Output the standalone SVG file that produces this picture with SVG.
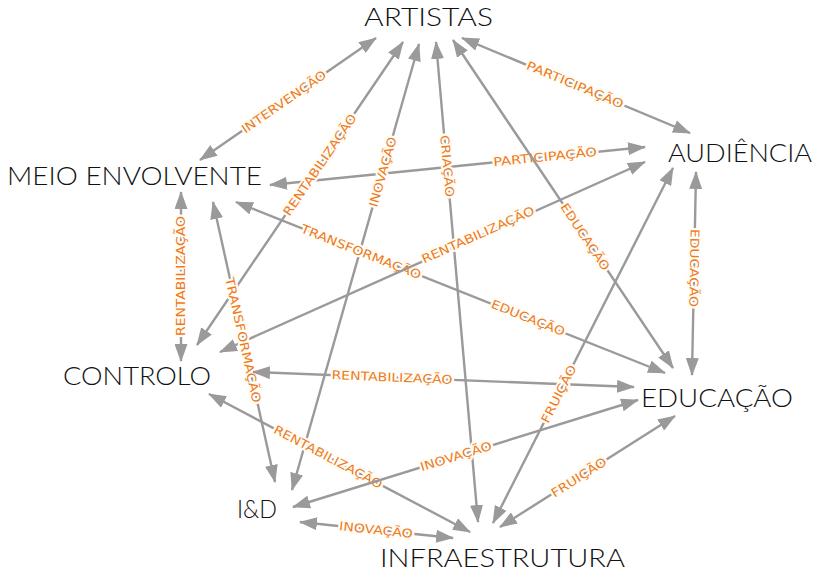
<svg xmlns="http://www.w3.org/2000/svg" width="815" height="573" viewBox="0 0 815 573">
<defs>
<marker id="ah" viewBox="0 0 18 13" markerWidth="18" markerHeight="13" refX="17" refY="6.5" orient="auto-start-reverse" markerUnits="userSpaceOnUse">
<path d="M0,0 L18,6.5 L0,13 z" fill="#9b9999"/>
</marker>
</defs>
<style>
.node text{font-family:"Lato","DejaVu Sans",sans-serif;font-size:25px;font-weight:300;fill:#111;}
.edge line{stroke:#9b9999;stroke-width:2.4;marker-start:url(#ah);marker-end:url(#ah);}
.lbl{font-family:"DejaVu Sans","Liberation Sans",sans-serif;font-size:12px;fill:#ee7a1f;text-anchor:middle;dominant-baseline:central;stroke:#fffdf5;stroke-width:4;stroke-linejoin:round;paint-order:stroke;}
</style>
<rect width="815" height="573" fill="#fff"/>
<g id="connectors">
<g class="edge"><line x1="376" y1="38" x2="200" y2="160"/><text class="lbl" transform="translate(284,102) rotate(-34.7)" textLength="100" lengthAdjust="spacingAndGlyphs">INTERVENÇÃO</text></g>
<g class="edge"><line x1="462" y1="38" x2="690" y2="133"/><text class="lbl" transform="translate(575,85) rotate(22.6)" textLength="104" lengthAdjust="spacingAndGlyphs">PARTICIPAÇÃO</text></g>
<g class="edge"><line x1="645" y1="147" x2="270" y2="185"/><text class="lbl" transform="translate(545,157) rotate(-5.8)" textLength="104" lengthAdjust="spacingAndGlyphs">PARTICIPAÇÃO</text></g>
<g class="edge"><line x1="403" y1="42" x2="197" y2="345"/><text class="lbl" transform="translate(320,165) rotate(-55.8)" textLength="120" lengthAdjust="spacingAndGlyphs">RENTABILIZAÇÃO</text></g>
<g class="edge"><line x1="419" y1="44" x2="292" y2="490"/><text class="lbl" transform="translate(383,172) rotate(-74.1)" textLength="72" lengthAdjust="spacingAndGlyphs">INOVAÇÃO</text></g>
<g class="edge"><line x1="436" y1="42" x2="478" y2="522"/><text class="lbl" transform="translate(447,166) rotate(85)" textLength="62" lengthAdjust="spacingAndGlyphs">CRIAÇÃO</text></g>
<g class="edge"><line x1="453" y1="40" x2="673" y2="368"/><text class="lbl" transform="translate(585,237) rotate(56.1)" textLength="78" lengthAdjust="spacingAndGlyphs">EDUCAÇÃO</text></g>
<g class="edge"><line x1="696" y1="172" x2="692" y2="375"/><text class="lbl" transform="translate(694,268) rotate(91)" textLength="78" lengthAdjust="spacingAndGlyphs">EDUCAÇÃO</text></g>
<g class="edge"><line x1="236" y1="202" x2="665" y2="373"/><text class="lbl" transform="translate(361,252) rotate(21.7)" textLength="128" lengthAdjust="spacingAndGlyphs">TRANSFORMAÇÃO</text><text class="lbl" transform="translate(528,318) rotate(21.7)" textLength="78" lengthAdjust="spacingAndGlyphs">EDUCAÇÃO</text></g>
<g class="edge"><line x1="645" y1="162" x2="220" y2="352"/><text class="lbl" transform="translate(478,235) rotate(-24.1)" textLength="122" lengthAdjust="spacingAndGlyphs">RENTABILIZAÇÃO</text></g>
<g class="edge"><line x1="181" y1="192" x2="181" y2="361"/><text class="lbl" transform="translate(181,276) rotate(-90)" textLength="120" lengthAdjust="spacingAndGlyphs">RENTABILIZAÇÃO</text></g>
<g class="edge"><line x1="213" y1="202" x2="275" y2="482"/><text class="lbl" transform="translate(243,340) rotate(77.5)" textLength="128" lengthAdjust="spacingAndGlyphs">TRANSFORMAÇÃO</text></g>
<g class="edge"><line x1="253" y1="372" x2="634" y2="387"/><text class="lbl" transform="translate(392,377.5) rotate(2.3)" textLength="121" lengthAdjust="spacingAndGlyphs">RENTABILIZAÇÃO</text></g>
<g class="edge"><line x1="209" y1="394" x2="470" y2="532"/><text class="lbl" transform="translate(328,457) rotate(27.9)" textLength="121" lengthAdjust="spacingAndGlyphs">RENTABILIZAÇÃO</text></g>
<g class="edge"><line x1="638" y1="400" x2="293" y2="507"/><text class="lbl" transform="translate(456,456.5) rotate(-17.2)" textLength="74" lengthAdjust="spacingAndGlyphs">INOVAÇÃO</text></g>
<g class="edge"><line x1="300" y1="522" x2="453" y2="538"/><text class="lbl" transform="translate(376,530) rotate(6)" textLength="74" lengthAdjust="spacingAndGlyphs">INOVAÇÃO</text></g>
<g class="edge"><line x1="673" y1="168" x2="493" y2="523"/><text class="lbl" transform="translate(559,394) rotate(-63.1)" textLength="63" lengthAdjust="spacingAndGlyphs">FRUIÇÃO</text></g>
<g class="edge"><line x1="675" y1="416" x2="500" y2="527"/><text class="lbl" transform="translate(579,477.5) rotate(-32.4)" textLength="63" lengthAdjust="spacingAndGlyphs">FRUIÇÃO</text></g>
</g>
<g id="artistas" class="node"><text x="364" y="26" textLength="129" lengthAdjust="spacingAndGlyphs">ARTISTAS</text></g>
<g id="audiencia" class="node"><text x="668" y="162" textLength="144" lengthAdjust="spacingAndGlyphs">AUDIÊNCIA</text></g>
<g id="meio-envolvente" class="node"><text x="7" y="185" textLength="255" lengthAdjust="spacingAndGlyphs">MEIO ENVOLVENTE</text></g>
<g id="controlo" class="node"><text x="63" y="385" textLength="148" lengthAdjust="spacingAndGlyphs">CONTROLO</text></g>
<g id="educacao" class="node"><text x="641" y="407" textLength="152" lengthAdjust="spacingAndGlyphs">EDUCAÇÃO</text></g>
<g id="id" class="node"><text x="237" y="518" textLength="40" lengthAdjust="spacingAndGlyphs">I&amp;D</text></g>
<g id="infraestrutura" class="node"><text x="380" y="567" textLength="245" lengthAdjust="spacingAndGlyphs">INFRAESTRUTURA</text></g>
</svg>
